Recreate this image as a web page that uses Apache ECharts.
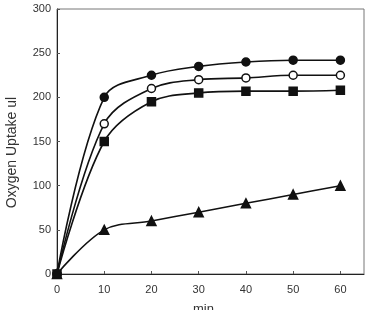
<!DOCTYPE html>
<html>
  <head>
    <meta charset="UTF-8">
    <title>Oxygen Uptake</title>
    <script src="https://cdn.jsdelivr.net/npm/echarts@6/dist/echarts.min.js"></script>
    <style>
      html, body {margin: 0; padding: 0; background: #fff;}
    </style>
  </head>
  <body>
    <div id="box" style="width:373px;height:310px"></div>
    <script>
        // time points (min) and the four curves
        var minutes = [0, 10, 20, 30, 40, 50, 60];
        var filledCircle = [0, 200, 225, 235, 240, 242, 242];
        var openCircle = [0, 170, 210, 220, 222, 225, 225];
        var filledSquare = [0, 150, 195, 205, 207, 207, 208];
        var filledTriangle = [0, 50, 60, 70, 80, 90, 100];

        function pairs(ys) {
            return minutes.map(function (m, i) { return [m, ys[i]]; });
        }

        function curve(name, ys, symbol, size, fill) {
            return {
                name: name,
                type: 'line',
                data: pairs(ys),
                smooth: 0.35,
                symbol: symbol,
                symbolSize: size,
                showAllSymbol: true,
                lineStyle: {color: '#111', width: 1.6},
                itemStyle: {color: fill, borderColor: '#111', borderWidth: 1.5},
                z: 3
            };
        }

        var myChart = echarts.init(document.getElementById('box'));
        myChart.setOption({
            animation: false,
            grid: {
                left: 57, right: 9, top: 9, bottom: 36,
                outerBoundsMode: 'none',
                containLabel: false,
                show: true, borderColor: '#777', borderWidth: 1
            },
            xAxis: {
                type: 'value',
                min: 0, max: 65, interval: 10,
                name: 'min',
                nameLocation: 'middle',
                nameGap: 29,
                nameTextStyle: {fontFamily: 'Liberation Sans', fontSize: 13, color: '#333', padding: [0, 14, 0, 0]},
                axisLine: {lineStyle: {color: '#222', width: 1}},
                axisTick: {inside: true, length: 3, lineStyle: {color: '#555'}},
                axisLabel: {
                    fontFamily: 'Liberation Sans', fontSize: 11, color: '#333', margin: 10,
                    showMaxLabel: false,
                    formatter: function (v) { return v % 10 === 0 ? String(v) : ''; }
                },
                splitLine: {show: false}
            },
            yAxis: {
                type: 'value',
                min: 0, max: 300, interval: 50,
                name: 'Oxygen Uptake ul',
                nameLocation: 'middle',
                nameGap: 38,
                nameTextStyle: {fontFamily: 'Liberation Sans', fontSize: 14, color: '#333', padding: [0, 22, 0, 0]},
                axisLine: {show: true, lineStyle: {color: '#222', width: 1}},
                axisTick: {show: true, inside: true, length: 3, lineStyle: {color: '#555'}},
                axisLabel: {fontFamily: 'Liberation Sans', fontSize: 11, color: '#333', margin: 6},
                splitLine: {show: false}
            },
            series: [
                curve('A', filledCircle, 'circle', 8, '#111'),
                curve('B', openCircle, 'circle', 8, '#fff'),
                curve('C', filledSquare, 'rect', 8, '#111'),
                curve('D', filledTriangle, 'triangle', 9, '#111')
            ]
        });
    </script>
  </body>
</html>
